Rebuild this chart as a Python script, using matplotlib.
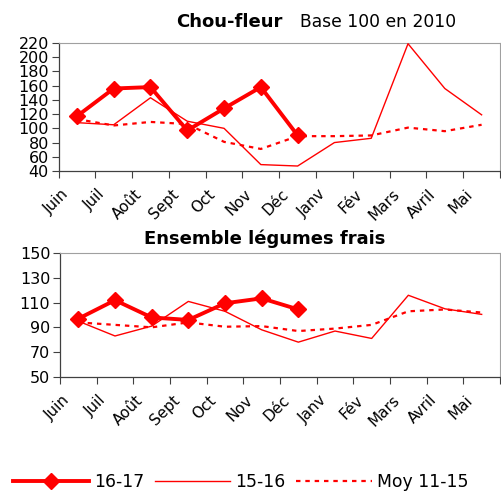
import numpy as np
import matplotlib.pyplot as plt
from matplotlib.transforms import blended_transform_factory

plt.rcParams['font.family'] = ['DejaVu Sans']

mois = ["Juin", "Juil", "Août", "Sept", "Oct", "Nov", "Déc",
        "Janv", "Fév", "Mars", "Avril", "Mai"]

# Chou-fleur
chou_1617 = [117, 156, 158, 97, 128, 158, 90]
chou_1516 = [108, 105, 143, 110, 100, 49, 47, 80, 86, 219, 156, 119]
chou_moy = [113, 104, 109, 106, 81, 71, 89, 89, 90, 101, 96, 105]

# Ensemble legumes frais
leg_1617 = [97, 112, 98, 96, 109.5, 113.5, 104.5]
leg_1516 = [95, 83, 91, 111, 103, 88, 78, 87, 81, 116, 105, 100.5]
leg_moy = [94, 92, 90, 94, 90.5, 91, 87, 89, 92, 103, 104.5, 102]

red = "#FF0000"
fig = plt.figure(figsize=(5.01, 4.91), dpi=100)


def draw(ax, s1, s2, s3, yticks, hpx):
    x = np.arange(12) + 0.5
    l1, = ax.plot(x[:len(s1)], s1, color=red, lw=2.8, marker="D", ms=8.5,
                  zorder=4, label="16-17")
    l2, = ax.plot(x, s2, color=red, lw=1.0, zorder=3, label="15-16")
    l3, = ax.plot(x, s3, color=red, lw=1.6, ls=(0, (2, 2.2)), zorder=2,
                  label="Moy 11-15")
    ax.set_xlim(0, 12)
    ax.set_ylim(yticks[0], yticks[-1])
    ax.set_yticks(yticks)
    ax.set_xticks(np.arange(13))
    ax.set_xticklabels([])
    # month labels, rotated, shifted left and down like the original
    tr = blended_transform_factory(ax.transData, ax.transAxes)
    for xi, m in zip(x, mois):
        ax.text(xi - 0.3, -21 / hpx, m, transform=tr, rotation=45,
                ha="right", va="center", rotation_mode="anchor",
                fontsize=11, clip_on=False)
    ax.tick_params(axis="x", length=5, width=0.8, color="#404040")
    ax.tick_params(axis="y", length=5, width=0.8, color="#404040",
                   labelsize=11.5, pad=2)
    for s in ["top", "right"]:
        ax.spines[s].set_color("#A0A0A0")
        ax.spines[s].set_linewidth(0.8)
    for s in ["left", "bottom"]:
        ax.spines[s].set_color("#404040")
        ax.spines[s].set_linewidth(0.9)
    return l1, l2, l3


ax1 = fig.add_axes([58.5 / 501, 1 - 171 / 491, (500 - 58.5) / 501, 128 / 491])
draw(ax1, chou_1617, chou_1516, chou_moy, list(range(40, 221, 20)), 128)

ax2 = fig.add_axes([60 / 501, 1 - 376.7 / 491, (500 - 60) / 501, 123.4 / 491])
handles = draw(ax2, leg_1617, leg_1516, leg_moy, list(range(50, 151, 20)),
               123.4)

fig.text(229 / 501, 1 - 22 / 491, "Chou-fleur", ha="center", va="center",
         fontsize=13, fontweight="bold")
fig.text(300 / 501, 1 - 22 / 491, "Base 100 en 2010", ha="left",
         va="center", fontsize=12.3)
fig.text(265 / 501, 1 - 239 / 491, "Ensemble légumes frais", ha="center",
         va="center", fontsize=13, fontweight="bold")

fig.legend(handles=handles, loc="center left",
           bbox_to_anchor=(13 / 501, 1 - 482 / 491), ncol=3, frameon=False,
           fontsize=12.4, handlelength=4.4, handletextpad=0.3,
           columnspacing=0.6, borderpad=0, borderaxespad=0)

fig.savefig("out.png", dpi=100)
